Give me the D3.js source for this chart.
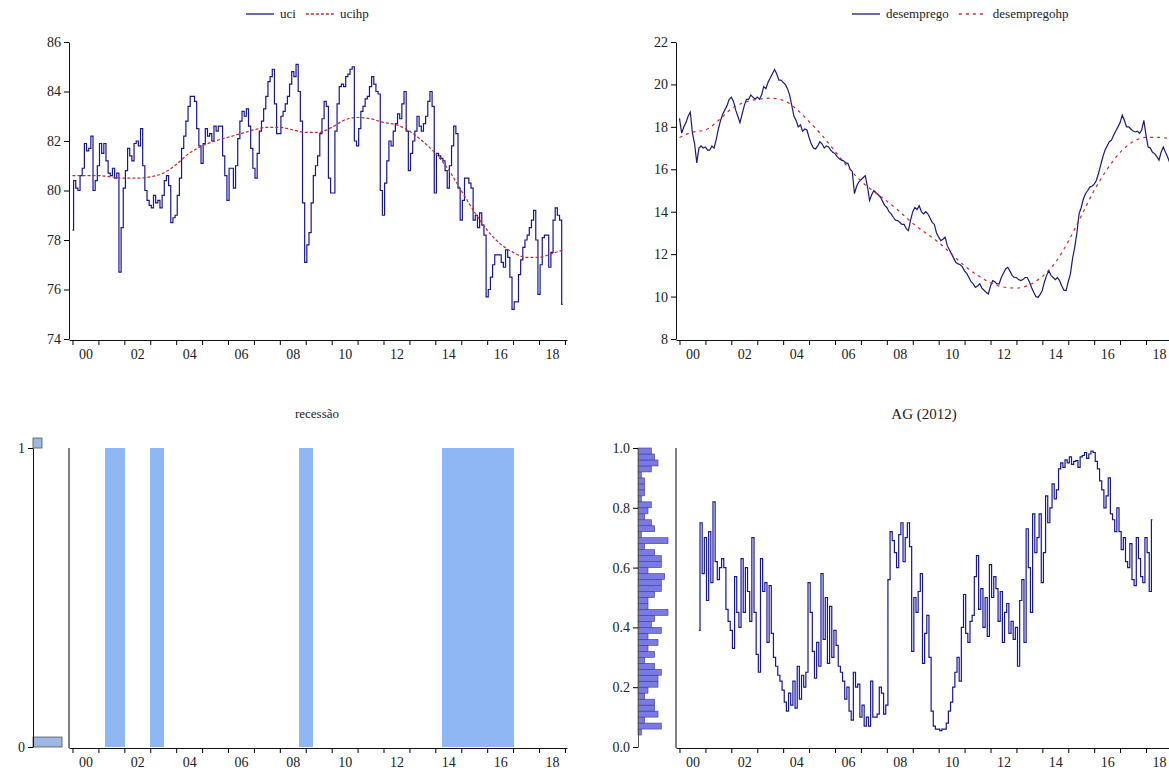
<!DOCTYPE html>
<html>
<head>
<meta charset="utf-8">
<script src="https://cdn.jsdelivr.net/npm/d3@7"></script>
<style>
  body { margin: 0; background: #fff; }
  svg text { font-family: "Liberation Serif", "DejaVu Serif", serif; fill: #222; }
</style>
</head>
<body>
<svg id="chart" width="1169" height="778"></svg>
<script>
// monthly series, 2000M1 .. 2018M12
const uci = [
  78.4, 80.4, 80.1, 80.0, 80.6, 80.9, 81.9, 81.6, 81.7, 82.2, 80.0, 80.4,
  81.0, 81.9, 81.5, 81.9, 81.2, 80.7, 80.6, 80.9, 80.5, 80.7, 76.7, 78.5,
  80.1, 80.8, 81.7, 81.4, 81.2, 81.9, 82.0, 81.8, 82.5, 81.0, 80.0, 79.6,
  79.4, 79.3, 79.8, 79.5, 79.6, 79.3, 79.8, 80.4, 80.6, 80.2, 78.7, 78.9,
  79.0, 79.8, 80.5, 81.7, 82.2, 82.8, 83.4, 83.8, 83.8, 83.6, 82.5, 81.8,
  81.1, 81.9, 82.5, 82.2, 82.3, 82.0, 82.6, 82.4, 82.6, 82.6, 81.4, 80.6,
  79.6, 80.9, 80.9, 80.1, 81.0, 82.1, 82.8, 83.2, 83.0, 83.3, 82.6, 81.7,
  80.9, 80.5, 81.5, 82.4, 82.8, 83.3, 83.8, 84.4, 84.6, 84.9, 83.5, 82.3,
  82.3, 83.0, 83.2, 83.5, 83.8, 84.3, 84.8, 84.6, 85.1, 84.0, 82.8, 79.5,
  77.1, 77.8, 78.3, 79.5, 80.6, 81.0, 81.4, 82.3, 82.9, 83.6, 83.4, 80.5,
  79.9, 79.9, 82.4, 83.5, 84.2, 84.3, 84.2, 84.6, 84.7, 84.9, 85.0, 82.0,
  81.8, 82.5, 83.2, 83.4, 83.7, 83.8, 84.2, 84.6, 84.3, 84.0, 83.9, 80.0,
  79.0, 80.3, 81.2, 82.0, 81.8, 82.4, 82.7, 83.1, 82.9, 83.5, 84.0, 82.4,
  80.8, 81.5, 82.0, 82.4, 83.0, 82.6, 82.4, 82.7, 83.0, 83.6, 84.0, 83.4,
  79.9, 81.5, 81.4, 81.3, 81.2, 80.8, 80.1, 81.0, 81.8, 82.6, 82.3, 80.1,
  78.8, 79.6, 80.5, 80.5, 80.3, 80.1, 78.8, 79.0, 78.5, 79.1, 78.6, 78.2,
  75.7, 76.0, 76.5, 77.0, 77.4, 77.4, 77.4, 77.1, 76.9, 77.6, 77.3, 76.5,
  75.2, 75.5, 75.5, 76.6, 77.2, 77.7, 78.0, 78.2, 78.5, 78.8, 79.2, 78.0,
  75.8, 77.0, 78.1, 78.2, 78.2, 76.9, 77.5, 78.8, 79.3, 79.0, 78.8, 75.4
];

// HP trends, read every half year
const hpTimes = [2000, 2000.5, 2001, 2001.5, 2002, 2002.5, 2003, 2003.5, 2004, 2004.5,
  2005, 2005.5, 2006, 2006.5, 2007, 2007.5, 2008, 2008.5, 2009, 2009.5,
  2010, 2010.5, 2011, 2011.5, 2012, 2012.5, 2013, 2013.5, 2014, 2014.5,
  2015, 2015.5, 2016, 2016.5, 2017, 2017.5, 2018, 2018.5, 2018.92];
const ucihp = [80.6, 80.6, 80.6, 80.55, 80.5, 80.5, 80.55, 80.7, 81.05, 81.5,
  81.8, 82.0, 82.15, 82.3, 82.45, 82.55, 82.55, 82.45, 82.35, 82.35,
  82.55, 82.85, 82.95, 82.9, 82.75, 82.65, 82.4, 82.0, 81.5, 80.85,
  80.0, 79.15, 78.4, 77.85, 77.5, 77.3, 77.3, 77.45, 77.6];

const desemprego = [
  18.4, 17.7, 18.0, 18.2, 18.5, 18.7, 17.7, 17.2, 16.3, 17.0, 17.1, 17.0,
  17.05, 16.9, 16.9, 17.1, 17.0, 17.4, 17.9, 18.3, 18.6, 18.8, 19.0, 19.3,
  19.4, 19.2, 18.8, 18.5, 18.2, 18.6, 19.0, 19.3, 19.3, 19.5, 19.4, 19.3,
  19.4, 19.3, 19.5, 19.9, 19.8, 20.1, 20.3, 20.5, 20.7, 20.5, 20.2, 20.2,
  20.1, 20.0, 19.8, 19.5, 19.0, 18.5, 18.3, 18.0, 18.1, 17.8, 17.9, 17.85,
  17.5, 17.2, 17.0, 16.96, 17.1, 17.3, 17.2, 17.0, 17.1, 17.05, 16.9, 16.8,
  16.74, 16.6, 16.5, 16.43, 16.4, 16.3, 16.27, 16.0, 15.9, 14.85, 15.2, 15.4,
  15.5, 15.6, 15.7, 15.2, 14.53, 14.8, 15.0, 14.9, 14.8, 14.69, 14.5, 14.3,
  14.2, 14.0, 13.9, 13.74, 13.6, 13.58, 13.5, 13.4, 13.4, 13.2, 13.11, 13.6,
  14.0, 14.2, 14.1, 14.28, 14.0, 13.9, 14.0, 13.9, 13.7, 13.5, 13.4, 13.0,
  12.8, 12.64, 12.7, 12.8, 12.4, 12.2, 12.0, 11.8, 11.6, 11.54, 11.5, 11.4,
  11.2, 11.1, 10.9, 10.7, 10.6, 10.43, 10.5, 10.6, 10.4, 10.3, 10.2, 10.12,
  10.5, 10.75, 10.7, 10.6, 10.6, 10.9, 11.1, 11.3, 11.38, 11.2, 11.0, 10.9,
  10.9, 10.8, 10.75, 10.8, 10.9, 10.9, 10.7, 10.43, 10.2, 10.0, 9.96, 10.1,
  10.3, 10.7, 11.0, 11.22, 11.0, 10.9, 10.8, 10.9, 10.75, 10.5, 10.3, 10.28,
  10.7, 11.07, 11.8, 12.32, 13.0, 13.9, 14.2, 14.6, 14.85, 15.0, 15.16, 15.2,
  15.3, 15.47, 15.8, 16.2, 16.58, 16.9, 17.1, 17.3, 17.37, 17.6, 17.8, 18.0,
  18.2, 18.55, 18.3, 18.0, 18.0, 17.9, 17.8, 17.76, 17.8, 17.7, 17.85, 18.31,
  17.6, 17.05, 17.0, 16.8, 16.74, 16.6, 16.43, 16.8, 17.05, 16.8, 16.58, 16.3
];

const desempregohp = [17.5, 17.75, 17.85, 18.3, 18.85, 19.15, 19.3, 19.35, 19.25, 18.85,
  18.25, 17.6, 16.85, 16.1, 15.45, 14.95, 14.5, 14.0, 13.45, 13.0,
  12.55, 12.0, 11.45, 11.0, 10.65, 10.45, 10.4, 10.55, 10.95, 11.6,
  12.6, 13.8, 15.0, 16.0, 16.8, 17.3, 17.5, 17.5, 17.45];

// recession dummy, 2000M1 .. 2018M12
const recessao = [
  0,0,0,0,0,0,0,0,0,0,0,0,
  0,0,0,1,1,1,1,1,1,1,1,1,
  0,0,0,0,0,0,0,0,0,0,0,0,
  1,1,1,1,1,1,0,0,0,0,0,0,
  0,0,0,0,0,0,0,0,0,0,0,0,
  0,0,0,0,0,0,0,0,0,0,0,0,
  0,0,0,0,0,0,0,0,0,0,0,0,
  0,0,0,0,0,0,0,0,0,0,0,0,
  0,0,0,0,0,0,0,0,0,1,1,1,
  1,1,1,0,0,0,0,0,0,0,0,0,
  0,0,0,0,0,0,0,0,0,0,0,0,
  0,0,0,0,0,0,0,0,0,0,0,0,
  0,0,0,0,0,0,0,0,0,0,0,0,
  0,0,0,0,0,0,0,0,0,0,0,0,
  0,0,0,1,1,1,1,1,1,1,1,1,
  1,1,1,1,1,1,1,1,1,1,1,1,
  1,1,1,1,1,1,1,1,1,1,1,1,
  0,0,0,0,0,0,0,0,0,0,0,0,
  0,0,0,0,0,0,0,0,0,0,0,0
];

// AG (2012), 2000M10 .. 2018M4
const agStart = 2000 + 9 / 12;
const ag = [
  0.39, 0.75, 0.58,
  0.70, 0.49, 0.72, 0.55, 0.82, 0.62, 0.56, 0.60, 0.63, 0.60, 0.46, 0.42,
  0.39, 0.33, 0.57, 0.45, 0.40, 0.63, 0.45, 0.60, 0.52, 0.42, 0.70, 0.45,
  0.31, 0.25, 0.63, 0.52, 0.55, 0.35, 0.54, 0.38, 0.30, 0.27, 0.24, 0.22,
  0.19, 0.15, 0.12, 0.18, 0.14, 0.22, 0.13, 0.27, 0.16, 0.24, 0.20, 0.25,
  0.55, 0.45, 0.32, 0.23, 0.35, 0.27, 0.58, 0.36, 0.50, 0.28, 0.47, 0.30,
  0.39, 0.34, 0.27, 0.25, 0.22, 0.16, 0.20, 0.12, 0.09, 0.25, 0.20, 0.21,
  0.10, 0.14, 0.07, 0.10, 0.07, 0.22, 0.10, 0.10, 0.11, 0.20, 0.18, 0.11,
  0.14, 0.56, 0.72, 0.69, 0.65, 0.60, 0.71, 0.75, 0.62, 0.70, 0.75, 0.67,
  0.32, 0.50, 0.45, 0.52, 0.58, 0.28, 0.38, 0.44, 0.30, 0.12, 0.07, 0.06,
  0.06, 0.055, 0.06, 0.06, 0.08, 0.12, 0.15, 0.20, 0.25, 0.30, 0.22, 0.40,
  0.51, 0.38, 0.35, 0.42, 0.44, 0.57, 0.64, 0.46, 0.53, 0.40, 0.50, 0.37,
  0.61, 0.50, 0.57, 0.53, 0.42, 0.52, 0.35, 0.45, 0.48, 0.38, 0.42, 0.36,
  0.40, 0.27, 0.49, 0.56, 0.35, 0.73, 0.60, 0.45, 0.78, 0.65, 0.70, 0.78,
  0.55, 0.65, 0.84, 0.75, 0.80, 0.88, 0.83, 0.86, 0.93, 0.95, 0.935, 0.96,
  0.95, 0.97, 0.945, 0.955, 0.958, 0.935, 0.97, 0.975, 0.985, 0.965, 0.98, 0.99,
  0.985, 0.955, 0.93, 0.89, 0.86, 0.80, 0.84, 0.90, 0.78, 0.76, 0.72, 0.80,
  0.72, 0.66, 0.70, 0.62, 0.60, 0.68, 0.56, 0.54, 0.70, 0.63, 0.57, 0.55,
  0.70, 0.65, 0.52, 0.76
];

const yearTicks = d3.range(2000, 2020);
const yearLabels = d3.range(2000, 2019, 2);

const svg = d3.select("#chart");
const monthly = (arr, start) => arr.map((v, i) => ({t: start + i / 12, v: v}));

// one panel = time axis + value axis
function makeAxes(left, top, bottom, yDomain, yTicks, showYAxis) {
  const x = d3.scaleLinear().domain([1999.865, 2019.08]).range([left, left + 498]);
  const y = d3.scaleLinear().domain(yDomain).range([bottom, top]);

  const gx = svg.append("g").attr("transform", "translate(0," + (bottom + 1) + ")");
  gx.call(d3.axisBottom(x).tickValues(yearTicks).tickFormat("").tickSize(5).tickSizeOuter(0));
  gx.append("g").call(d3.axisBottom(x).tickValues(yearLabels.map(d => d + 0.5))
      .tickFormat(d => String(Math.floor(d) % 100).padStart(2, "0")).tickSize(0).tickPadding(9))
    .call(g => g.select(".domain").remove());
  gx.selectAll("text").attr("font-size", 14);

  if (showYAxis) {
    const gy = svg.append("g").attr("transform", "translate(" + left + ",0)");
    gy.call(d3.axisLeft(y).tickValues(yTicks).tickSize(5).tickSizeOuter(0));
    gy.selectAll("text").attr("font-size", 14);
  } else {
    svg.append("line").attr("x1", left).attr("x2", left)
      .attr("y1", top).attr("y2", bottom + 1).attr("stroke", "#000");
  }
  svg.selectAll(".domain").attr("stroke", "#111");
  return {x, y};
}

function legend(items, x0, yy) {
  let x = x0;
  items.forEach(it => {
    svg.append("line").attr("x1", x).attr("x2", x + 28).attr("y1", yy).attr("y2", yy)
      .attr("stroke", it.color).attr("stroke-width", 1.3)
      .attr("stroke-dasharray", it.dash || null);
    const t = svg.append("text").attr("x", x + 34).attr("y", yy + 4)
      .attr("font-size", 13).text(it.name);
    x += 34 + t.node().getComputedTextLength() + 10;
  });
}

const blue = "#16169a";
const red = "#c42a2a";

// ---- top left: uci
{
  const {x, y} = makeAxes(69, 42, 339, [74, 86], d3.range(74, 87, 2), true);
  svg.append("path").datum(monthly(uci, 2000))
    .attr("d", d3.line().x(d => x(d.t)).y(d => y(d.v)).curve(d3.curveStep))
    .attr("fill", "none").attr("stroke", blue).attr("stroke-width", 1.2);
  svg.append("path").datum(hpTimes.map((t, i) => ({t: t, v: ucihp[i]})))
    .attr("d", d3.line().x(d => x(d.t)).y(d => y(d.v)).curve(d3.curveMonotoneX))
    .attr("fill", "none").attr("stroke", red).attr("stroke-width", 1.2)
    .attr("stroke-dasharray", "3,2");
  legend([{name: "uci", color: blue}, {name: "ucihp", color: red, dash: "3,2"}], 246, 14);
}

// ---- top right: desemprego
{
  const {x, y} = makeAxes(676, 42, 339, [8, 22], d3.range(8, 23, 2), true);
  svg.append("path").datum(monthly(desemprego, 2000))
    .attr("d", d3.line().x(d => x(d.t)).y(d => y(d.v))).attr("fill", "none")
    .attr("stroke", "#1a1a7a").attr("stroke-width", 1.2);
  svg.append("path").datum(hpTimes.map((t, i) => ({t: t, v: desempregohp[i]})))
    .attr("d", d3.line().x(d => x(d.t)).y(d => y(d.v)).curve(d3.curveMonotoneX))
    .attr("fill", "none").attr("stroke", red).attr("stroke-width", 1.2)
    .attr("stroke-dasharray", "3,4");
  legend([{name: "desemprego", color: "#1a1a7a"}, {name: "desempregohp", color: red, dash: "3,4"}], 852, 14);
}

// ---- bottom left: recessão
{
  const {x, y} = makeAxes(69, 448, 747, [0, 1], [], false);
  svg.append("g").attr("shape-rendering", "crispEdges").selectAll("rect")
    .data(monthly(recessao, 2000).filter(d => d.v === 1))
    .join("rect")
    .attr("x", d => x(d.t)).attr("width", d => x(d.t + 1 / 12) - x(d.t) + 1)
    .attr("y", d => y(d.v)).attr("height", d => y(0) - y(d.v))
    .attr("fill", "#8fb7f3");
  svg.append("text").attr("x", 317).attr("y", 418).attr("text-anchor", "middle")
    .attr("font-size", 13).text("recessão");

  // histogram on the side
  const bins = d3.bin().domain([0, 1 + 1 / 30]).thresholds(d3.range(0, 1.0334, 1 / 30))(recessao);
  const w = d3.scaleLinear().domain([0, d3.max(bins, b => b.length)]).range([0, 29]);
  svg.append("g").selectAll("rect").data(bins.filter(b => b.length > 0)).join("rect")
    .attr("x", 33).attr("width", b => w(b.length))
    .attr("y", b => y(b.x1)).attr("height", b => y(b.x0) - y(b.x1))
    .attr("fill", "#9bb9e2").attr("stroke", "#555").attr("stroke-width", 0.8);
  const gs = svg.append("g").attr("transform", "translate(33,0)");
  gs.call(d3.axisLeft(y).tickValues([0, 1]).tickFormat(d3.format("d")).tickSize(5).tickSizeOuter(0));
  gs.select(".domain").attr("stroke", "#777");
  gs.selectAll("text").attr("font-size", 14);
}

// ---- bottom right: AG (2012)
{
  const {x, y} = makeAxes(676, 448, 747, [0, 1], [], false);
  svg.append("path").datum(monthly(ag, agStart))
    .attr("d", d3.line().x(d => x(d.t)).y(d => y(d.v)).curve(d3.curveStep))
    .attr("fill", "none").attr("stroke", blue).attr("stroke-width", 1.2);
  svg.append("text").attr("x", 924).attr("y", 419).attr("text-anchor", "middle")
    .attr("font-size", 15).text("AG (2012)");

  const bins = d3.bin().domain([0, 1]).thresholds(d3.range(0, 1, 0.02))(ag);
  const w = d3.scaleLinear().domain([0, d3.max(bins, b => b.length)]).range([0, 30]);
  svg.append("g").selectAll("rect").data(bins.filter(b => b.length > 0)).join("rect")
    .attr("x", 638).attr("width", b => w(b.length))
    .attr("y", b => y(b.x1)).attr("height", b => y(b.x0) - y(b.x1))
    .attr("fill", "#7a7ae6").attr("stroke", "#3a3a99").attr("stroke-width", 0.6);
  const gs = svg.append("g").attr("transform", "translate(638,0)");
  gs.call(d3.axisLeft(y).tickValues(d3.range(0, 1.01, 0.2)).tickFormat(d3.format(".1f")).tickSize(5).tickSizeOuter(0));
  gs.select(".domain").attr("stroke", "#555");
  gs.selectAll("text").attr("font-size", 14);
}
</script>
</body>
</html>
